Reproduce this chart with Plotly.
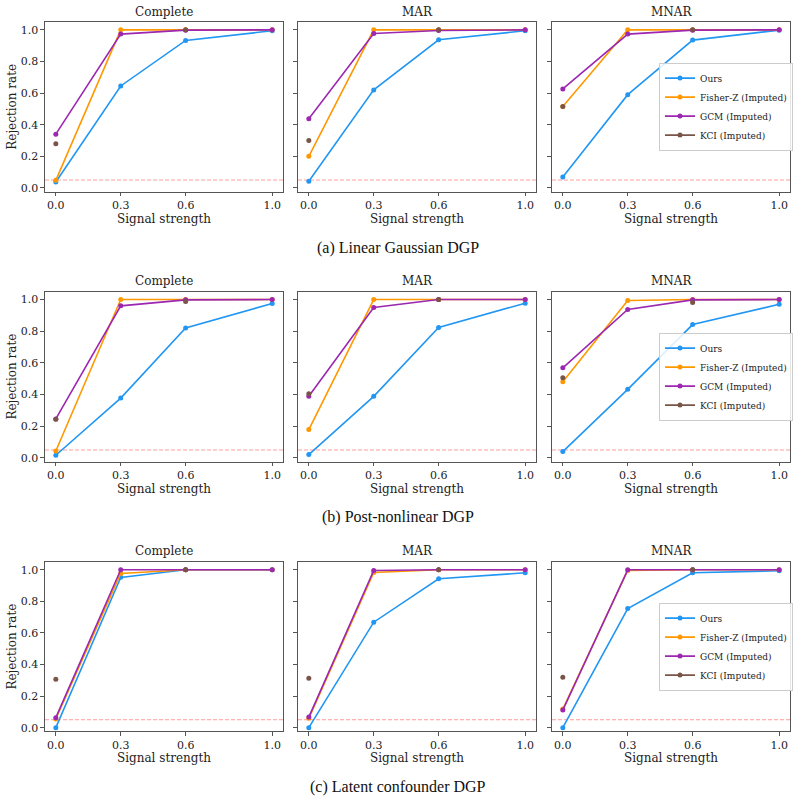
import plotly.graph_objects as go

W, H = 797, 806

signal = [0.0, 0.3, 0.6, 1.0]
x_ticks = [0.0, 0.3, 0.6, 1.0]
x_tick_labels = ["0.0", "0.3", "0.6", "1.0"]
y_ticks = [0.0, 0.2, 0.4, 0.6, 0.8, 1.0]
y_tick_labels = ["0.0", "0.2", "0.4", "0.6", "0.8", "1.0"]

methods = ["Ours", "Fisher-Z (Imputed)", "GCM (Imputed)", "KCI (Imputed)"]
colors = ["#2196F3", "#FF9800", "#9C27B0", "#795548"]
settings = ["Complete", "MAR", "MNAR"]
captions = ["(a) Linear Gaussian DGP", "(b) Post-nonlinear DGP", "(c) Latent confounder DGP"]
alpha_level = 0.05

# (a) Linear Gaussian DGP
lg_complete_ours = [0.038, 0.645, 0.933, 0.994]
lg_complete_fisher = [0.048, 1.0, 1.0, 1.0]
lg_complete_gcm = [0.34, 0.973, 0.998, 1.0]
lg_complete_kci = [0.279, None, 1.0, None]
lg_mar_ours = [0.042, 0.62, 0.937, 0.994]
lg_mar_fisher = [0.20, 1.0, 1.0, 1.0]
lg_mar_gcm = [0.437, 0.977, 0.996, 1.0]
lg_mar_kci = [0.30, None, 1.0, None]
lg_mnar_ours = [0.069, 0.59, 0.935, 0.998]
lg_mnar_fisher = [0.515, 1.0, 1.0, 1.0]
lg_mnar_gcm = [0.626, 0.973, 0.998, 1.0]
lg_mnar_kci = [0.515, None, 1.0, None]

# (b) Post-nonlinear DGP
pn_complete_ours = [0.017, 0.378, 0.821, 0.975]
pn_complete_fisher = [0.044, 1.0, 1.0, 1.0]
pn_complete_gcm = [0.246, 0.96, 0.998, 1.0]
pn_complete_kci = [0.244, None, 0.987, None]
pn_mar_ours = [0.021, 0.389, 0.824, 0.977]
pn_mar_fisher = [0.179, 1.0, 1.0, 1.0]
pn_mar_gcm = [0.39, 0.95, 1.0, 1.0]
pn_mar_kci = [0.405, None, 1.0, None]
pn_mnar_ours = [0.04, 0.433, 0.842, 0.97]
pn_mnar_fisher = [0.481, 0.994, 1.0, 1.0]
pn_mnar_gcm = [0.569, 0.937, 0.998, 1.0]
pn_mnar_kci = [0.506, None, 0.981, None]

# (c) Latent confounder DGP
lc_complete_ours = [0.0, 0.952, 1.0, 1.0]
lc_complete_fisher = [0.055, 0.977, 1.0, 1.0]
lc_complete_gcm = [0.063, 1.0, 1.0, 1.0]
lc_complete_kci = [0.307, None, 1.0, None]
lc_mar_ours = [0.0, 0.668, 0.943, 0.981]
lc_mar_fisher = [0.059, 0.983, 1.0, 1.0]
lc_mar_gcm = [0.067, 0.996, 1.0, 1.0]
lc_mar_kci = [0.313, None, 1.0, None]
lc_mnar_ours = [0.0, 0.754, 0.981, 0.994]
lc_mnar_fisher = [0.118, 0.996, 1.0, 1.0]
lc_mnar_gcm = [0.111, 1.0, 1.0, 1.0]
lc_mnar_kci = [0.319, None, 1.0, None]

data = [
    [[lg_complete_ours, lg_complete_fisher, lg_complete_gcm, lg_complete_kci],
     [lg_mar_ours, lg_mar_fisher, lg_mar_gcm, lg_mar_kci],
     [lg_mnar_ours, lg_mnar_fisher, lg_mnar_gcm, lg_mnar_kci]],
    [[pn_complete_ours, pn_complete_fisher, pn_complete_gcm, pn_complete_kci],
     [pn_mar_ours, pn_mar_fisher, pn_mar_gcm, pn_mar_kci],
     [pn_mnar_ours, pn_mnar_fisher, pn_mnar_gcm, pn_mnar_kci]],
    [[lc_complete_ours, lc_complete_fisher, lc_complete_gcm, lc_complete_kci],
     [lc_mar_ours, lc_mar_fisher, lc_mar_gcm, lc_mar_kci],
     [lc_mnar_ours, lc_mnar_fisher, lc_mnar_gcm, lc_mnar_kci]],
]

# layout geometry (pixels)
col_px = [(45, 283), (298, 536), (552, 790)]
row_px = [(22, 192.3), (292.7, 463.3), (564, 734)]
title_px = [12, 282, 553]
xtitle_px = [220, 491, 761]
caption_px = [249, 519, 790]
legend_mid_px = [107, 378, 649]

SERIF = "DejaVu Serif"
TEXT = "#222222"
FRAME = "#555555"

fig = go.Figure()
layout = dict(
    width=W, height=H,
    margin=dict(l=0, r=0, t=0, b=0),
    paper_bgcolor="white", plot_bgcolor="white",
    font=dict(family=SERIF, size=11, color=TEXT),
    hovermode=False,
)
annotations = []
shapes = []

for r in range(3):
    for c in range(3):
        k = r * 3 + c + 1
        xa = "x" if k == 1 else f"x{k}"
        ya = "y" if k == 1 else f"y{k}"
        for m in range(4):
            fig.add_trace(go.Scatter(
                x=signal, y=data[r][c][m], mode="lines+markers",
                name=methods[m],
                line=dict(color=colors[m], width=1.6),
                marker=dict(color=colors[m], size=5),
                connectgaps=False,
                xaxis=xa, yaxis=ya,
                legend="legend" if r == 0 else f"legend{r+1}",
                showlegend=(c == 2),
            ))
        x0, x1 = col_px[c]
        y0, y1 = row_px[r]
        axis_common = dict(
            showgrid=False, zeroline=False, showline=True, mirror=True,
            linecolor=FRAME, linewidth=1.2, ticks="outside", ticklen=3.5,
            tickwidth=1, tickcolor=FRAME,
            tickfont=dict(family=SERIF, size=11, color=TEXT),
        )
        layout[f"xaxis{k if k > 1 else ''}"] = dict(
            axis_common, domain=[x0 / W, x1 / W], anchor=ya,
            range=[-0.05, 1.05], tickvals=x_ticks, ticktext=x_tick_labels,
        )
        layout[f"yaxis{k if k > 1 else ''}"] = dict(
            axis_common, domain=[1 - y1 / H, 1 - y0 / H], anchor=xa,
            range=[-0.023, 1.05], tickvals=y_ticks, ticktext=y_tick_labels,
            showticklabels=(c == 0),
        )
        shapes.append(dict(
            type="line", xref=f"{xa} domain", yref=ya, x0=0, x1=1,
            y0=alpha_level, y1=alpha_level,
            line=dict(color="rgba(255,60,60,0.5)", width=1, dash="4px,2px"),
            layer="below",
        ))
        cx = (x0 + x1) / 2 / W
        annotations.append(dict(
            text=settings[c], x=cx, y=1 - title_px[r] / H, xref="paper", yref="paper",
            showarrow=False, xanchor="center", yanchor="middle",
            font=dict(family=SERIF, size=12, color=TEXT),
        ))
        annotations.append(dict(
            text="Signal strength", x=cx, y=1 - xtitle_px[r] / H, xref="paper", yref="paper",
            showarrow=False, xanchor="center", yanchor="middle",
            font=dict(family=SERIF, size=12, color=TEXT),
        ))
    # y-axis title
    annotations.append(dict(
        text="Rejection rate", x=12 / W, y=1 - (row_px[r][0] + row_px[r][1]) / 2 / H,
        xref="paper", yref="paper", showarrow=False, textangle=-90,
        xanchor="center", yanchor="middle",
        font=dict(family=SERIF, size=12, color=TEXT),
    ))
    annotations.append(dict(
        text=captions[r], x=398 / W, y=1 - caption_px[r] / H, xref="paper", yref="paper",
        showarrow=False, xanchor="center", yanchor="middle",
        font=dict(family="Liberation Serif", size=16, color="#111111"),
    ))
    lname = "legend" if r == 0 else f"legend{r+1}"
    layout[lname] = dict(
        x=659 / W, y=1 - legend_mid_px[r] / H, xanchor="left", yanchor="middle",
        xref="paper", yref="paper",
        bgcolor="rgba(255,255,255,0.85)", bordercolor="#cccccc", borderwidth=1,
        font=dict(family=SERIF, size=9, color=TEXT),
        tracegroupgap=0, itemwidth=30,
    )

layout["annotations"] = annotations
layout["shapes"] = shapes
fig.update_layout(**layout)
fig.write_html("out.html")
